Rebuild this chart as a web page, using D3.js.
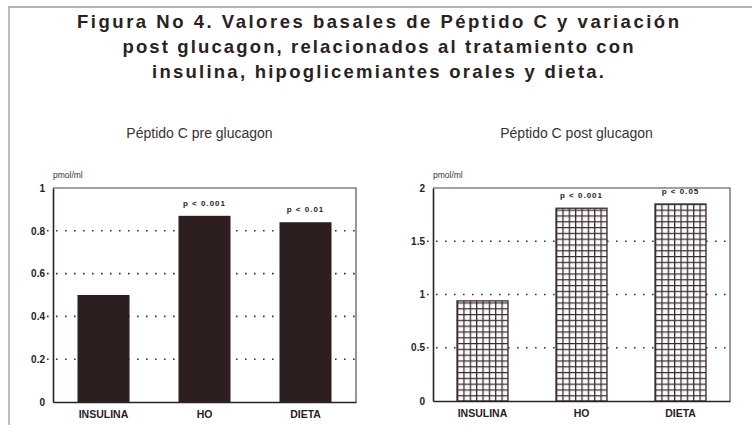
<!DOCTYPE html>
<html><head><meta charset="utf-8">
<script src="https://cdn.jsdelivr.net/npm/d3@7"></script>
<style>
body{margin:0;background:#fff;}
svg{display:block;font-family:"Liberation Sans",Arial,Helvetica,sans-serif;}
</style></head>
<body><svg id="c" width="756" height="442"></svg>
<script>
const titleLines = [
  "Figura No 4. Valores basales de Péptido C y variación",
  "post glucagon, relacionados al tratamiento con",
  "insulina, hipoglicemiantes orales y dieta."
];
const categories = ["INSULINA", "HO", "DIETA"];
const preValues = [0.50, 0.87, 0.84];
const postValues = [0.94, 1.81, 1.85];
const preLabels = ["", "p < 0.001", "p < 0.01"];
const postLabels = ["", "p < 0.001", "p < 0.05"];
const preTicks = [0, 0.2, 0.4, 0.6, 0.8, 1];
const postTicks = [0, 0.5, 1, 1.5, 2];
const preTickLabels = ["0", "0.2", "0.4", "0.6", "0.8", "1"];
const postTickLabels = ["0", "0.5", "1", "1.5", "2"];

const ink = "#2a2123";
const svg = d3.select("#c");
const defs = svg.append("defs");

// outer frame
svg.append("path").attr("d", "M9,425V7H752").attr("fill", "none")
  .attr("stroke", "#9a9a9a").attr("stroke-width", 1.3);

// title
const titleWidths = [602, 511, 452];
svg.append("g").selectAll("text").data(titleLines).join("text")
  .attr("x", 378).attr("y", (d, i) => 28 + i * 25)
  .attr("text-anchor", "middle").attr("font-weight", "bold")
  .attr("font-size", 18.5).attr("fill", ink)
  .attr("textLength", (d, i) => titleWidths[i]).attr("lengthAdjust", "spacing")
  .text(d => d);

function panel(opt) {
  const g = svg.append("g");
  const x = d3.scaleBand().domain(categories).range([opt.x0, opt.x1])
    .paddingInner(0.485).paddingOuter(0.2425);
  const y = d3.scaleLinear().domain([0, opt.max]).range([opt.y0, opt.y1]);

  g.append("text").attr("x", (opt.x0 + opt.x1) / 2 - 5).attr("y", 138)
    .attr("text-anchor", "middle").attr("font-size", 14).attr("fill", "#3a3234")
    .text(opt.subtitle);
  g.append("text").attr("x", opt.x0).attr("y", 178)
    .attr("font-size", 8.5).attr("fill", "#3a3234").text("pmol/ml");

  // grid
  g.append("g").selectAll("line").data(opt.ticks.filter(t => t > 0 && t < opt.max)).join("line")
    .attr("x1", opt.x0 - 6).attr("x2", opt.x1)
    .attr("y1", d => y(d)).attr("y2", d => y(d))
    .attr("stroke", "#3a3234").attr("stroke-width", 1.6)
    .attr("stroke-dasharray", "1.6,7.4");

  // bars
  const bars = g.append("g");
  opt.values.forEach((v, i) => {
    const bx = x(categories[i]);
    if (opt.pattern) {
      const id = opt.id + "p" + i;
      const p = defs.append("pattern").attr("id", id).attr("patternUnits", "userSpaceOnUse")
        .attr("x", bx).attr("y", y(0)).attr("width", 6.35).attr("height", 5.8);
      p.append("rect").attr("width", 6.35).attr("height", 5.8).attr("fill", "#fbfafa");
      p.append("path").attr("d", "M0.6,0V5.8M0,0.6H6.35").attr("stroke", "#3a2c2e").attr("stroke-width", 1.3);
      bars.append("rect").attr("x", bx).attr("y", y(v)).attr("width", x.bandwidth())
        .attr("height", y(0) - y(v)).attr("fill", `url(#${id})`)
        .attr("stroke", "#3a2c2e").attr("stroke-width", 1.3);
    } else {
      bars.append("rect").attr("x", bx).attr("y", y(v)).attr("width", x.bandwidth())
        .attr("height", y(0) - y(v)).attr("fill", "#2d1f20");
    }
  });

  // value labels
  g.append("g").selectAll("text").data(opt.labels).join("text")
    .attr("x", (d, i) => x(categories[i]) + x.bandwidth() / 2)
    .attr("y", (d, i) => y(opt.values[i]) - 10)
    .attr("text-anchor", "middle").attr("font-size", 8).attr("font-weight", "bold")
    .attr("letter-spacing", 1).attr("fill", ink).text(d => d);

  // frame
  g.append("path").attr("d", `M${opt.x0},${opt.y1}H${opt.x1}V${opt.y0}`)
    .attr("fill", "none").attr("stroke", "#4a4042").attr("stroke-width", 1.1);
  // y axis
  const ya = d3.axisLeft(y).tickValues(opt.ticks).tickSize(0).tickPadding(8)
    .tickFormat((d, i) => opt.tickLabels[i]);
  const yg = g.append("g").attr("transform", `translate(${opt.x0},0)`).call(ya);
  yg.select(".domain").attr("stroke", ink).attr("stroke-width", 1.6);
  yg.selectAll("text").attr("font-size", 10).attr("font-weight", "bold").attr("fill", ink)
    .attr("font-family", "'Liberation Sans',Arial,sans-serif");
  // x axis
  const xa = d3.axisBottom(x).tickSize(0).tickPadding(9);
  const xg = g.append("g").attr("transform", `translate(0,${opt.y0})`).call(xa);
  xg.select(".domain").attr("stroke", ink).attr("stroke-width", 1.6);
  xg.selectAll("text").attr("font-size", 10.5).attr("font-weight", "bold").attr("fill", ink)
    .attr("font-family", "'Liberation Sans',Arial,sans-serif");
}

panel({id: "pre", x0: 53, x1: 356, y0: 402, y1: 188, max: 1, values: preValues,
  labels: preLabels, ticks: preTicks, tickLabels: preTickLabels,
  subtitle: "Péptido C pre glucagon", pattern: false});
panel({id: "post", x0: 433, x1: 730, y0: 401, y1: 188, max: 2, values: postValues,
  labels: postLabels, ticks: postTicks, tickLabels: postTickLabels,
  subtitle: "Péptido C post glucagon", pattern: true});
</script></body></html>
